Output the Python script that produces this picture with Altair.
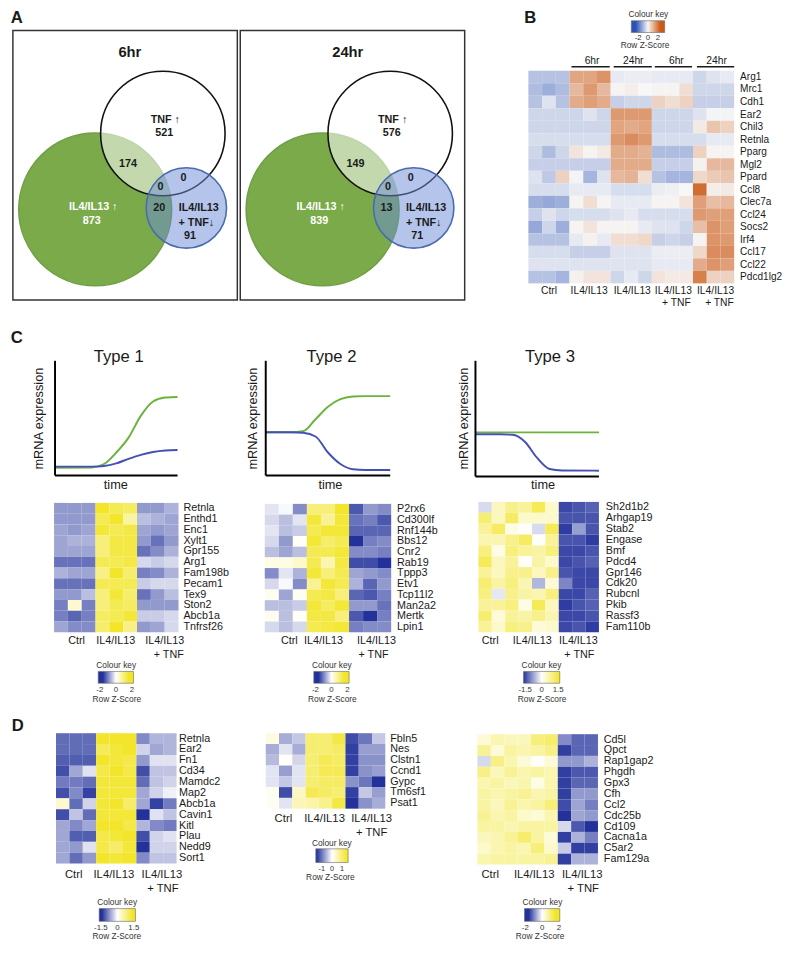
import altair as alt
import pandas as pd

S = 0.98
FONT = "Liberation Sans"
INK = "#1a1a1a"


def P(v):
    return round(v * S, 2)


def lin(d0, d1, r0, r1):
    return alt.Scale(domain=[d0, d1], range=[P(r0), P(r1)], nice=False, zero=False)


def FIGX():
    return lin(0, 791, 0, 791)


def FIGY():
    return lin(0, 953, 0, 953)


# ------------------------------------------------------------------ data
# Panel A (Venn)
VENN_TIMES = ["6hr", "24hr"]
VENN_PANEL_OFFSET = [0, 232]
VENN_TITLE_X = [119.3, 109.7]
VENN_SETS = ["IL4/IL13 up", "TNF up", "IL4/IL13 + TNF down"]
VENN_CX = [84, 153, 177]
VENN_CY = [182.5, 105, 181]
VENN_R = [78, 63.5, 41]
VENN_FILL = ["#7aaa4a", "#ffffff", "#6989d5"]
VENN_FILL_OPACITY = [1.0, 0.55, 0.5]
VENN_STROKE = ["#6f9f45", "#111111", "#4a6cae"]
VENN_REGIONS = ["IL only", "TNF only", "IL&TNF", "all", "TNF&comb", "IL&comb", "comb only"]
VENN_COUNTS_6HR = [873, 521, 174, 0, 0, 20, 91]
VENN_COUNTS_24HR = [839, 576, 149, 0, 0, 13, 71]
VENN_COUNT_X = [80.5, 154.5, 117.5, 150.7, 174, 149.3, 180.7]
VENN_COUNT_Y = [194, 104.5, 136, 159.3, 150.3, 181.3, 209.3]
VENN_COUNT_COLOR = ["white", INK, INK, INK, INK, INK, INK]
VENN_NAMES = ["IL4/IL13 \u2191", "TNF \u2191", "IL4/IL13", "+ TNF\u2193"]
VENN_NAME_X = [82, 155.5, 189.7, 187.2]
VENN_NAME_Y = [180.3, 91.3, 181.3, 196]
VENN_NAME_COLOR = ["white", INK, INK, INK]

# Panel B
B_GENES = ["Arg1", "Mrc1", "Cdh1", "Ear2", "Chil3", "Retnla", "Pparg", "Mgl2", "Ppard",
           "Ccl8", "Clec7a", "Ccl24", "Socs2", "Irf4", "Ccl17", "Ccl22", "Pdcd1lg2"]
B_Z = [
    [-0.8, -0.8, -0.8, 1.3, 1.3, 1.6, -0.2, -0.15, -0.15, -0.2, -0.2, -0.2, -0.5, -0.3, -0.2],
    [-0.9, -1.1, -0.9, 1.0, 1.5, 1.0, 0.05, 0.15, 0.0, 0.05, 0.05, 0.4, -0.5, -0.5, -0.5],
    [-0.8, -0.3, -0.8, 1.2, 1.4, 1.2, -0.6, -0.5, -0.5, 0.6, 0.4, 0.6, -0.6, -0.6, -0.6],
    [-0.5, -0.5, -0.5, -0.5, -0.3, -0.5, 1.5, 1.5, 1.5, -0.5, -0.5, -0.5, -0.3, -0.05, -0.05],
    [-0.5, -0.5, -0.5, -0.5, -0.5, -0.5, 1.3, 1.2, 1.3, -0.5, -0.5, -0.5, 0.2, 0.8, 0.6],
    [-0.4, -0.4, -0.4, -0.4, -0.4, -0.4, 1.5, 1.7, 1.5, -0.4, -0.4, -0.4, -0.4, -0.2, -0.2],
    [-0.5, -0.9, -0.5, 0.3, 0.05, 0.2, 1.2, 1.2, 1.1, -0.9, -0.9, -0.9, 0.6, 0.05, 0.05],
    [-0.6, -0.6, -0.6, -0.6, -0.6, -0.6, 1.2, 1.2, 1.2, -0.6, -0.6, -0.6, 0.1, 1.0, 1.0],
    [-0.3, -0.7, 0.6, -0.05, -1.0, -0.3, 1.0, 1.1, 0.4, -0.8, -1.0, -1.0, 0.5, 0.7, 0.8],
    [-0.4, -0.4, -0.4, -0.2, -0.2, -0.2, -0.4, -0.4, -0.4, -0.15, -0.1, 0.0, 2.2, 0.15, 0.2],
    [-1.1, -1.2, -1.1, 0.05, 0.4, 0.05, -0.2, -0.2, -0.2, 0.05, 0.05, 0.3, 1.4, 0.9, 1.0],
    [-0.6, -0.3, -0.5, -0.4, -0.4, -0.4, -0.3, -0.2, -0.4, -0.4, -0.4, -0.4, 1.5, 1.4, 1.4],
    [-1.2, -0.5, -1.1, 0.05, 0.3, 0.05, 0.05, 0.05, -0.2, -0.3, -0.3, -0.5, 0.9, 1.6, 1.4],
    [-0.8, -0.8, -0.8, -0.2, 0.1, -0.2, 0.4, 0.4, 0.5, -0.6, -0.5, -0.6, 0.05, 1.6, 1.5],
    [-0.4, -0.4, -0.4, -0.6, -0.6, -0.6, -0.3, -0.3, -0.3, -0.15, -0.15, -0.15, 0.5, 1.7, 1.7],
    [-0.3, -0.3, -0.3, -0.3, -0.3, -0.3, -0.3, -0.3, -0.3, -0.2, -0.2, -0.2, 1.2, 1.6, 1.4],
    [-0.8, -0.8, -1.0, 0.1, 0.3, 0.3, -0.5, -0.2, -0.5, 0.3, 0.2, 0.2, 1.9, 0.6, 0.6],
]

# Panel C
C1_GENES = ["Retnla", "Enthd1", "Enc1", "Xylt1", "Gpr155", "Arg1", "Fam198b", "Pecam1",
            "Tex9", "Ston2", "Abcb1a", "Tnfrsf26"]
C1_Z = [
    [-0.8, -0.8, -0.8, 1.6, 1.3, 1.2, -0.8, -0.8, -0.6],
    [-0.8, -0.8, -0.8, 1.3, 1.7, 0.7, -0.5, -0.6, -0.7],
    [-0.7, -0.8, -0.7, 1.5, 1.3, 1.4, -0.7, -0.8, -0.7],
    [-0.7, -0.6, -0.6, 1.0, 1.4, 1.4, -0.8, -1.1, -0.8],
    [-0.7, -0.7, -0.7, 1.0, 1.4, 1.4, -1.1, -0.9, -0.6],
    [-1.1, -1.1, -1.1, 1.3, 1.3, 1.4, -0.3, -0.4, -0.3],
    [-0.6, -0.7, -0.7, 0.9, 1.7, 1.1, -1.0, -0.9, -0.6],
    [-1.1, -1.1, -1.1, 1.3, 1.3, 1.3, -0.4, -0.3, -0.3],
    [-0.8, -0.8, -0.5, 1.0, 1.5, 1.1, -1.1, -0.8, -0.5],
    [-1.0, 0.35, -1.0, 1.0, 1.3, 1.2, -0.8, -0.8, -0.8],
    [-1.0, -1.2, -1.0, 1.2, 1.3, 1.5, -0.4, -0.4, -0.3],
    [-0.7, -0.9, -0.9, 1.1, 1.7, 0.9, -0.8, -0.7, -0.3],
]
C2_GENES = ["P2rx6", "Cd300lf", "Rnf144b", "Bbs12", "Cnr2", "Rab19", "Tppp3", "Etv1",
            "Tcp11l2", "Man2a2", "Mertk", "Lpin1"]
C2_Z = [
    [-0.2, -0.05, -0.9, 1.0, 1.0, 1.6, -1.3, -0.8, -0.9],
    [-0.3, -0.5, -0.2, 1.5, 0.8, 1.5, -1.1, -1.0, -1.3],
    [-0.2, -0.5, -0.4, 1.3, 1.5, 1.5, -1.2, -1.2, -1.2],
    [-0.3, -0.8, 0.05, 1.5, 1.1, 1.3, -1.7, -1.0, -0.9],
    [-0.5, -0.7, -0.5, 1.3, 1.3, 1.5, -0.9, -0.9, -1.0],
    [0.2, 0.2, 0.4, 1.3, 0.6, 1.4, -1.4, -1.4, -1.8],
    [-0.9, -0.2, -0.6, 1.5, 1.0, 1.3, -0.7, -0.8, -0.9],
    [-0.3, -0.05, -0.9, 0.8, 1.5, 1.3, -0.6, -1.2, -0.8],
    [0.1, -0.7, 0.1, 1.3, 1.4, 1.0, -1.2, -1.3, -1.0],
    [-0.5, -0.5, -0.4, 1.5, 1.2, 1.5, -0.8, -0.8, -1.1],
    [0.1, -0.5, 0.05, 1.4, 1.4, 1.0, -1.3, -1.6, -1.0],
    [-0.3, -0.5, -0.3, 1.3, 1.4, 1.5, -1.0, -0.9, -0.9],
]
C3_GENES = ["Sh2d1b2", "Arhgap19", "Stab2", "Engase", "Bmf", "Pdcd4", "Gpr146", "Cdk20",
            "Rubcnl", "Pkib", "Rassf3", "Fam110b"]
C3_Z = [
    [-0.3, 0.5, 0.9, 0.8, 1.3, 0.4, -1.5, -1.4, -1.3],
    [1.1, 0.5, 1.2, 0.4, 0.4, 0.4, -1.4, -1.4, -1.4],
    [0.8, 1.2, 0.2, 0.05, -0.3, 1.3, -1.6, -0.8, -1.4],
    [0.6, 0.6, 0.9, 1.2, 0.05, 0.8, -1.4, -1.4, -1.6],
    [1.0, 0.2, 1.0, 0.8, 0.7, 1.0, -1.5, -1.5, -1.4],
    [1.3, 0.5, 0.8, 0.05, 0.7, 0.4, -1.5, -1.4, -1.3],
    [0.8, 0.5, 0.9, 0.9, 0.5, 0.9, -1.4, -1.5, -1.5],
    [1.1, 0.7, 1.0, 0.6, -0.6, 0.3, -1.0, -1.5, -1.5],
    [1.0, -0.2, 0.9, 0.7, 0.6, 1.0, -1.5, -1.5, -1.3],
    [0.8, 0.8, 1.0, 0.2, 1.3, 0.5, -1.6, -1.4, -1.3],
    [1.1, 0.3, 0.8, 0.7, 0.9, 0.6, -1.5, -1.5, -1.4],
    [0.8, 0.4, 1.0, 0.9, 0.3, 0.4, -1.5, -1.4, -1.6],
]

# Panel D
D1_GENES = ["Retnla", "Ear2", "Fn1", "Cd34", "Mamdc2", "Map2", "Abcb1a", "Cavin1", "Kitl",
            "Plau", "Nedd9", "Sort1"]
D1_Z = [
    [-1.0, -1.0, -1.0, 1.4, 1.4, 1.4, -0.8, -0.5, -0.5],
    [-1.0, -1.0, -1.0, 1.1, 1.3, 1.4, -0.3, -0.6, -0.5],
    [-1.1, -1.1, -1.1, 1.4, 1.3, 1.2, -0.7, -0.2, -0.2],
    [-1.2, -0.6, -0.2, 1.2, 1.5, 1.2, -1.2, -0.4, -0.4],
    [-0.9, -0.9, -1.0, 1.3, 1.3, 1.3, -1.0, -0.4, -0.3],
    [-1.2, -0.8, -1.3, 1.3, 1.3, 1.3, -0.6, -0.3, -0.1],
    [0.3, -1.0, -0.3, 1.3, 1.5, 1.0, -0.6, -1.3, -0.9],
    [-1.2, -0.4, -1.0, 1.3, 1.3, 1.3, -1.4, -0.2, -0.4],
    [-0.6, -0.8, -0.6, 1.4, 1.4, 1.2, -0.5, -0.8, -0.9],
    [-0.6, -1.1, -1.1, 1.2, 1.3, 1.4, -1.2, -0.3, -0.2],
    [-0.6, -0.7, -0.2, 1.2, 1.0, 1.3, -1.6, -0.3, -0.3],
    [-0.6, -1.0, -0.7, 1.4, 1.3, 1.4, -0.8, -0.4, -0.4],
]
D2_GENES = ["Fbln5", "Nes", "Clstn1", "Ccnd1", "Gypc", "Tm6sf1", "Psat1"]
D2_Z = [
    [0.2, -0.6, -0.4, 1.0, 1.0, 1.3, -1.3, -1.0, -0.4],
    [-0.6, -0.2, -0.6, 1.0, 1.0, 1.1, -1.4, -0.7, -0.7],
    [-0.5, 0.05, -0.3, 1.0, 1.2, 1.1, -1.4, -0.8, -0.8],
    [-0.2, -0.7, -0.2, 1.0, 1.2, 1.2, -1.4, -0.8, -0.7],
    [-0.2, -0.4, -0.2, 1.0, 1.1, 1.1, -0.8, -1.0, -1.5],
    [0.1, -1.3, 0.4, 1.2, 1.1, 1.0, -1.4, -0.4, -0.7],
    [0.1, -0.2, 0.5, 0.6, 0.8, 1.3, -1.6, -0.8, -0.6],
]
D3_GENES = ["Cd5l", "Qpct", "Rap1gap2", "Phgdh", "Gpx3", "Cfh", "Ccl2", "Cdc25b", "Cd109",
            "Cacna1a", "C5ar2", "Fam129a"]
D3_Z = [
    [0.3, 0.6, 0.5, 0.5, 1.0, 1.1, -0.9, -1.2, -1.2],
    [0.8, 0.3, 0.7, 0.6, 0.7, 0.9, -1.5, -1.2, -1.2],
    [-0.3, 0.9, 0.6, 0.3, 0.05, 0.3, -0.8, -0.8, -0.6],
    [0.9, 0.5, 0.8, 0.6, 0.7, 0.6, -1.5, -1.3, -1.3],
    [0.6, 0.7, 0.5, 0.6, 0.2, 0.6, -1.5, -1.2, -1.2],
    [0.7, 0.6, 0.7, 0.8, 0.6, 0.7, -1.5, -0.8, -0.8],
    [0.7, 0.5, 0.8, 0.6, 0.7, 1.0, -1.4, -0.7, -1.0],
    [0.8, 0.6, 0.7, 0.4, 0.3, 0.6, -1.6, -0.7, -0.8],
    [0.7, 0.7, 0.6, 0.7, 0.7, 0.7, -0.3, -1.3, -1.6],
    [0.5, 0.6, 0.8, 1.1, 0.7, 0.3, -1.5, -0.6, -1.0],
    [0.4, 0.6, 0.7, 0.6, 1.0, 0.4, -0.4, -1.5, -1.5],
    [0.6, 0.7, 0.7, 0.7, 0.7, 0.8, -1.5, -0.6, -0.6],
]

# Schematic expression curves (time units 0-10, expression units 0-10)
SERIES = ["IL4/IL13", "IL4/IL13 + TNF"]
T1_TIME = [0, 3, 4, 5, 6, 7, 8, 9, 10]
T1_IL = [0.68, 0.7, 1.0, 2.0, 3.3, 5.2, 6.45, 6.8, 6.85]
T1_TNF = [0.77, 0.77, 0.82, 1.05, 1.45, 1.8, 2.05, 2.18, 2.22]
T2_TIME = [0, 2, 3, 4, 5, 6, 7, 8, 10]
T2_IL = [3.76, 3.76, 3.85, 4.9, 6.0, 6.65, 6.88, 6.92, 6.92]
T2_TNF = [3.76, 3.76, 3.72, 3.4, 2.0, 1.0, 0.55, 0.48, 0.48]
T3_TIME = [0, 2, 3, 4, 5, 6, 7, 10]
T3_IL = [3.81, 3.81, 3.81, 3.81, 3.81, 3.81, 3.81, 3.81]
T3_TNF = [3.64, 3.64, 3.6, 3.0, 1.6, 0.65, 0.52, 0.5]

GREEN = "#6cb33e"
BLUE = "#4650b4"
BO_RANGE = ["#2b52b5", "#2b52b5", "#f7f7f7", "#cc5a16", "#cc5a16"]
BY_RANGE = ["#23329b", "#23329b", "#ffffff", "#f2e52a", "#f2e52a"]
BY3_RANGE = ["#28369e", "#ffffff", "#f2e52a"]

layers = []

# ------------------------------------------------------------------ Panel A
AX = lambda: lin(0, 461, 5, 466)
AY = lambda: lin(0, 275, 23, 298)

circ_rows = []
for p, off in enumerate(VENN_PANEL_OFFSET):
    for k in range(3):
        circ_rows.append({"panel": VENN_TIMES[p], "set": VENN_SETS[k], "x": VENN_CX[k] + off,
                          "y": VENN_CY[k], "r": VENN_R[k], "fill": VENN_FILL[k],
                          "fo": VENN_FILL_OPACITY[k], "stroke": VENN_STROKE[k]})
circ_df = pd.DataFrame(circ_rows)
layers.append(
    alt.Chart(circ_df).mark_point(shape="circle", filled=True, strokeWidth=P(1.6), opacity=1).encode(
        x=alt.X("x:Q", scale=AX(), axis=None),
        y=alt.Y("y:Q", scale=AY(), axis=None),
        size=alt.Size("r:Q", scale=alt.Scale(type="pow", exponent=2, domain=[0, 100],
                                             range=[0, (2 * 100 * S) ** 2]), legend=None),
        fill=alt.Fill("fill:N", scale=None),
        fillOpacity=alt.FillOpacity("fo:Q", scale=None),
        stroke=alt.Stroke("stroke:N", scale=None),
    )
)

vt_rows = []
for p, off in enumerate(VENN_PANEL_OFFSET):
    counts = VENN_COUNTS_6HR if p == 0 else VENN_COUNTS_24HR
    for k in range(len(VENN_REGIONS)):
        vt_rows.append({"t": str(counts[k]), "x": VENN_COUNT_X[k] + off, "y": VENN_COUNT_Y[k],
                        "c": VENN_COUNT_COLOR[k]})
    for k in range(len(VENN_NAMES)):
        vt_rows.append({"t": VENN_NAMES[k], "x": VENN_NAME_X[k] + off, "y": VENN_NAME_Y[k],
                        "c": VENN_NAME_COLOR[k]})
vt_df = pd.DataFrame(vt_rows)
layers.append(
    alt.Chart(vt_df).mark_text(font=FONT, fontSize=P(11), fontWeight="bold", baseline="middle",
                               align="center").encode(
        x=alt.X("x:Q", scale=AX(), axis=None),
        y=alt.Y("y:Q", scale=AY(), axis=None),
        text="t:N",
        color=alt.Color("c:N", scale=None),
    )
)
title_df = pd.DataFrame({"t": VENN_TIMES,
                         "x": [VENN_TITLE_X[i] + VENN_PANEL_OFFSET[i] for i in range(2)],
                         "y": [22.7, 22.7]})
layers.append(
    alt.Chart(title_df).mark_text(font=FONT, fontSize=P(15), fontWeight="bold", color=INK,
                                  baseline="middle").encode(
        x=alt.X("x:Q", scale=AX(), axis=None), y=alt.Y("y:Q", scale=AY(), axis=None), text="t:N")
)
box_df = pd.DataFrame({"x": [0, 232], "x2": [229, 461], "y": [0, 0], "y2": [275, 275]})
layers.append(
    alt.Chart(box_df).mark_rect(fillOpacity=0, stroke="#333333", strokeWidth=P(1.5)).encode(
        x=alt.X("x:Q", scale=AX(), axis=None), x2="x2:Q",
        y=alt.Y("y:Q", scale=AY(), axis=None), y2="y2:Q")
)


# ------------------------------------------------------------------ heatmaps
def heatmap(genes, values, box, gene_size, gene_dx, cdomain, crange, keybox, keyvals, key_off,
            key_font=8):
    x0, x1, y0, y1 = box
    nrow, ncol = len(genes), len(values[0])
    cells = pd.DataFrame([{"row": i, "row2": i + 1, "col": j, "col2": j + 1, "z": values[i][j]}
                          for i in range(nrow) for j in range(ncol)])
    kx0, kx1, ky0, ky1 = keybox
    legend = alt.Legend(
        title="Colour key", orient="none", legendX=P(kx0), legendY=P(ky0) - P(8.5) - 2,
        direction="horizontal", gradientLength=P(kx1 - kx0), gradientThickness=P(ky1 - ky0),
        values=keyvals, format=".1~f", labelExpr="replace(datum.label, '\u2212', '-')",
        titleFont=FONT, labelFont=FONT,
        titleFontSize=P(8.5), labelFontSize=P(key_font), titleFontWeight="normal",
        titleColor="#333333", labelColor="#333333", titleAnchor="middle", titlePadding=2,
        labelOffset=key_off, labelAlign="center", gradientStrokeColor="#666666",
        gradientStrokeWidth=0.6, labelOverlap=False, padding=0, titleLimit=200)
    rect = alt.Chart(cells).mark_rect().encode(
        x=alt.X("col:Q", scale=lin(0, ncol, x0, x1), axis=None), x2="col2:Q",
        y=alt.Y("row:Q", scale=lin(0, nrow, y0, y1), axis=None), y2="row2:Q",
        color=alt.Color("z:Q", scale=alt.Scale(domain=cdomain, range=crange, interpolate="rgb"),
                        legend=legend))
    labels = pd.DataFrame({"g": genes, "row": [i + 0.5 for i in range(nrow)], "col": [ncol] * nrow})
    glab = alt.Chart(labels).mark_text(font=FONT, fontSize=P(gene_size), align="left",
                                       baseline="middle", dx=P(gene_dx), color=INK).encode(
        x=alt.X("col:Q", scale=lin(0, ncol, x0, x1), axis=None),
        y=alt.Y("row:Q", scale=lin(0, nrow, y0, y1), axis=None), text="g:N")
    return [rect, glab]


GF = 11
layers += heatmap(B_GENES, B_Z, (531, 741, 64, 281), 10.3, 6, [-3.4, -2.5, 0, 2.5, 3.4], BO_RANGE,
                  (633, 667, 13, 25), [-2, 0, 2], 1)
layers += heatmap(C1_GENES, C1_Z, (47, 174, 505, 637), GF, 5, [-2.2, -1.6, 0, 1.6, 2.2], BY_RANGE,
                  (90, 126, 677, 689), [-2, 0, 2], 2.5)
layers += heatmap(C2_GENES, C2_Z, (262, 391, 506, 637), GF, 6, [-2.2, -1.6, 0, 1.6, 2.2], BY_RANGE,
                  (310, 346, 677, 689), [-2, 0, 2], 2.5)
layers += heatmap(C3_GENES, C3_Z, (480, 603, 504, 637), GF, 7, [-1.65, 0, 1.65], BY3_RANGE,
                  (524, 561, 677, 689), [-1.5, 0, 1.5], 2.5)
layers += heatmap(D1_GENES, D1_Z, (49, 172, 740, 873), GF, 2.5, [-1.65, -1.4, 0, 1.4, 1.65], BY_RANGE,
                  (91, 128, 919, 932), [-1.5, 0, 1.5], 2.5)
layers += heatmap(D2_GENES, D2_Z, (263, 385, 740, 817), GF, 5, [-1.6, -1.5, 0, 1.5, 1.6], BY_RANGE,
                  (310, 343, 858, 872), [-1, 0, 1], 2, key_font=7.5)
layers += heatmap(D3_GENES, D3_Z, (479, 602, 741, 874), GF, 6, [-2.1, -1.6, 0, 1.6, 2.1], BY_RANGE,
                  (525, 561, 919, 932), [-2, 0, 2], 2.5)


# ------------------------------------------------------------------ schematic curves
def sketch(xr, yr, times, il, tnf):
    xs = lambda: lin(0, 10, xr[0], xr[1])
    ys = lambda: lin(0, 10, yr[0], yr[1])
    df = pd.DataFrame({"t": times + times, "v": il + tnf,
                       "series": [SERIES[0]] * len(times) + [SERIES[1]] * len(times)})
    line = alt.Chart(df).mark_line(interpolate="monotone", strokeWidth=P(2)).encode(
        x=alt.X("t:Q", scale=xs(), axis=None),
        y=alt.Y("v:Q", scale=ys(), axis=None),
        color=alt.Color("series:N", scale=alt.Scale(domain=SERIES, range=[GREEN, BLUE]), legend=None))
    axes = pd.DataFrame({"t": [0, 0], "t2": [0, 10], "v": [0, 0], "v2": [10, 0]})
    rule = alt.Chart(axes).mark_rule(color="black", strokeWidth=P(2)).encode(
        x=alt.X("t:Q", scale=xs(), axis=None), x2="t2:Q",
        y=alt.Y("v:Q", scale=ys(), axis=None), y2="v2:Q")
    return [line, rule]


layers += sketch((48, 173), (477, 360), T1_TIME, T1_IL, T1_TNF)
layers += sketch((263, 390), (477, 360), T2_TIME, T2_IL, T2_TNF)
layers += sketch((477, 603), (478, 360), T3_TIME, T3_IL, T3_TNF)


# ------------------------------------------------------------------ annotations
def texts(t, x, y, size, weight="normal", angle=0, color=INK):
    df = pd.DataFrame({"t": t, "x": x, "y": y})
    return alt.Chart(df).mark_text(font=FONT, fontSize=P(size), fontWeight=weight, angle=angle,
                                   align="center", baseline="middle", color=color).encode(
        x=alt.X("x:Q", scale=FIGX(), axis=None), y=alt.Y("y:Q", scale=FIGY(), axis=None), text="t:N")


layers.append(texts(["A", "B", "C", "D"], [9, 533, 9, 10], [10, 10, 337, 733], 17, "bold"))
layers.append(texts(["Type 1", "Type 2", "Type 3"], [113, 330, 553], [356, 356, 356], 17))
layers.append(texts(["mRNA expression"] * 3, [32, 250, 465], [419, 419, 419], 13, angle=270))
layers.append(texts(["time"] * 3, [110, 329, 546], [487, 487, 487], 13))
layers.append(texts(["6hr", "24hr", "6hr", "24hr"], [596, 638, 682, 723], [54, 54, 54, 54], 10.5))
layers.append(texts(["Ctrl", "IL4/IL13", "IL4/IL13", "IL4/IL13", "IL4/IL13", "+ TNF", "+ TNF"],
                    [552, 593, 637, 679, 722, 682, 726],
                    [289, 289, 289, 289, 289, 301, 301], 10.5))
layers.append(texts(["Ctrl", "IL4/IL13", "IL4/IL13", "+ TNF"] * 3,
                    [70, 110, 160, 164, 287, 322, 376, 373, 492, 535, 582, 583],
                    [646, 646, 646, 660] * 3, 11))
layers.append(texts(["Ctrl", "IL4/IL13", "IL4/IL13", "+ TNF"] * 3,
                    [67, 108, 157, 158, 281, 323, 371, 371, 492, 537, 586, 587],
                    [885, 885, 885, 899, 828, 828, 828, 842, 885, 885, 885, 899], 11.5))
layers.append(texts(["Row Z-Score"] * 7, [650, 111, 331, 545, 111, 329, 543],
                    [39, 706, 706, 706, 948, 888, 948], 8.5, color="#333333"))
hdr = pd.DataFrame({"x": [575, 618, 660, 703], "x2": [614, 657, 698, 741], "y": [60, 60, 60, 60]})
layers.append(
    alt.Chart(hdr).mark_rule(color=INK, strokeWidth=P(1.5)).encode(
        x=alt.X("x:Q", scale=FIGX(), axis=None), x2="x2:Q", y=alt.Y("y:Q", scale=FIGY(), axis=None))
)

chart = (
    alt.layer(*layers)
    .resolve_scale(x="independent", y="independent", color="independent", size="independent")
    .resolve_legend(color="independent")
    .properties(width=775, height=937, padding=0, autosize=alt.AutoSizeParams(type="none"),
                background="white")
    .configure_view(stroke=None)
)

chart.save("out.html", embed_options={"renderer": "svg", "actions": False})
